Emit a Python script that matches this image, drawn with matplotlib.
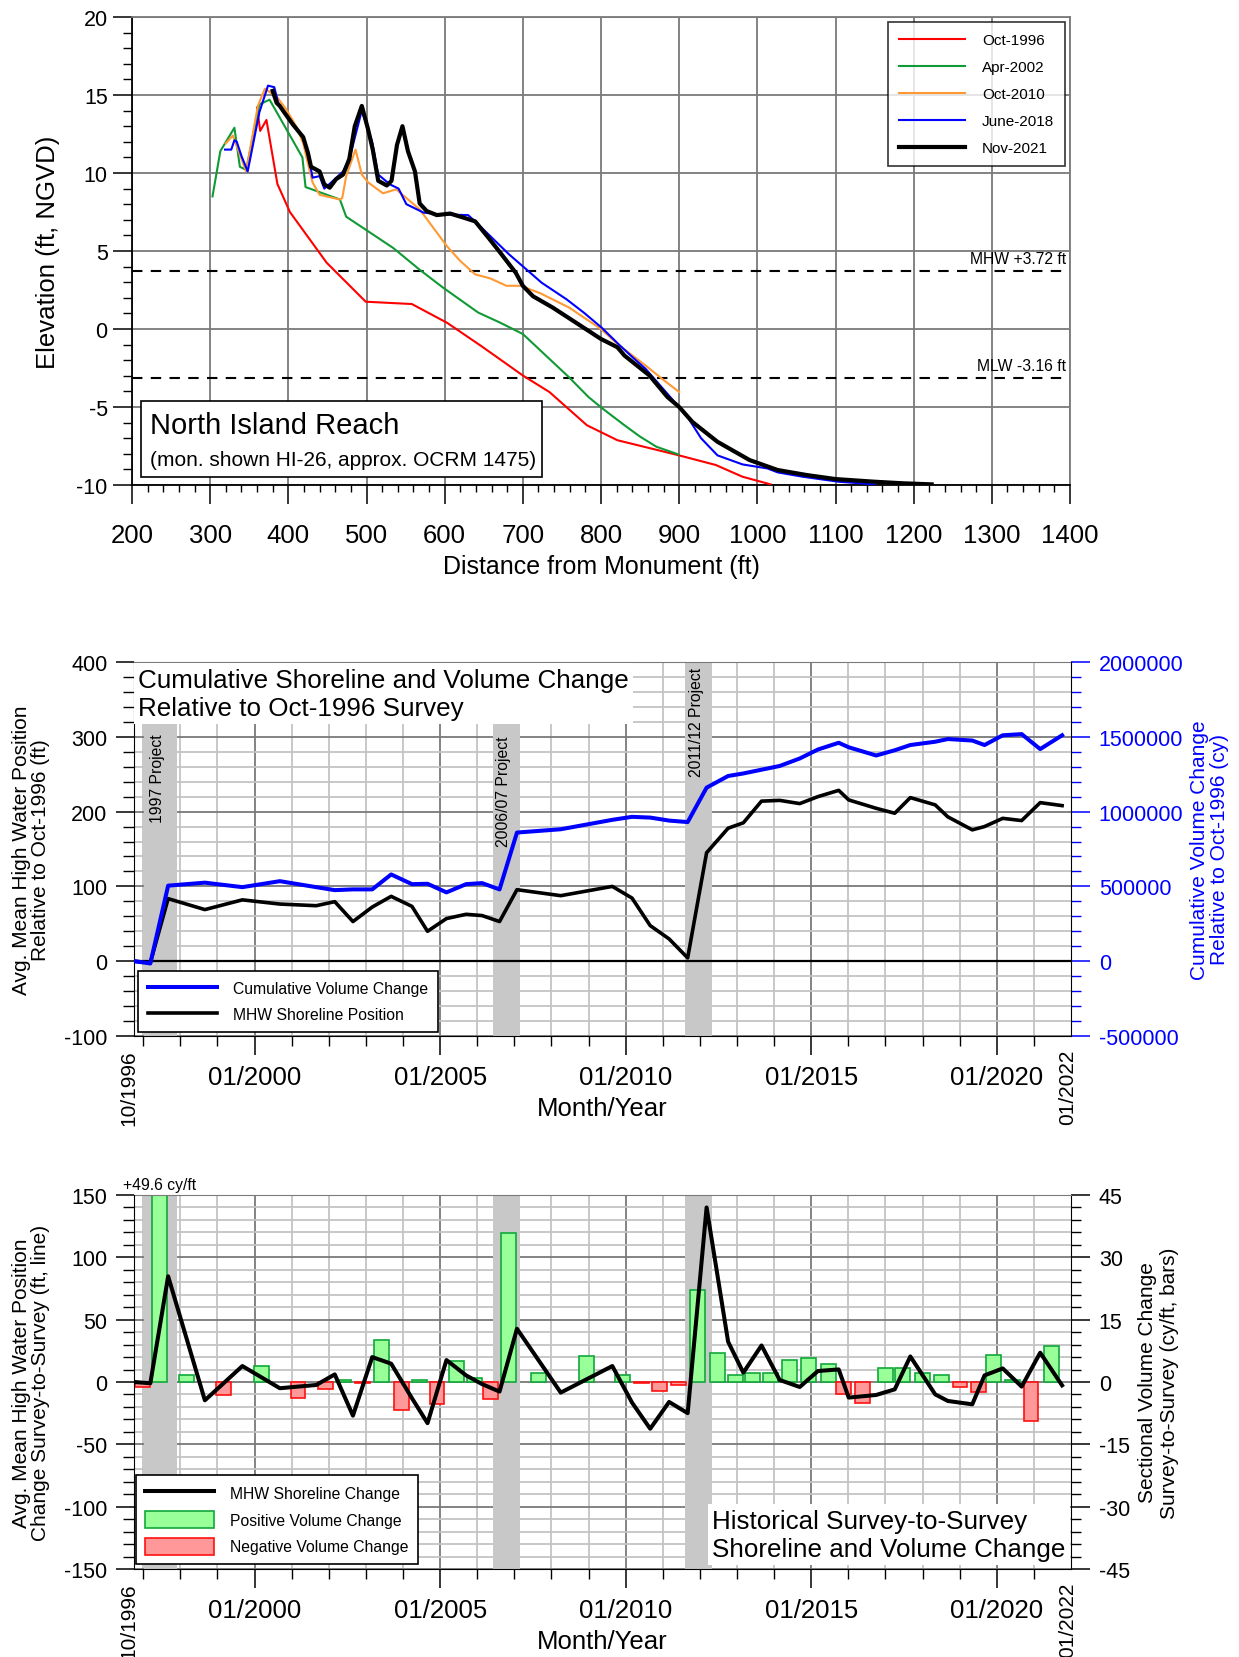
import matplotlib
matplotlib.use('Agg')
import matplotlib.pyplot as plt
from matplotlib.ticker import MultipleLocator, FixedLocator
from matplotlib.lines import Line2D
from matplotlib.patches import Patch, Rectangle
import numpy as np

plt.rcParams['font.family'] = ['Liberation Sans', 'DejaVu Sans']
plt.rcParams['axes.unicode_minus'] = False

# ---------------- Profile data (top panel) ----------------
oct1996_x = [360, 364, 372, 386, 402, 449, 499, 558, 603, 647, 671, 700, 734, 782, 821, 899, 947, 981, 1017]
oct1996_y = [14.2, 12.7, 13.4, 9.3, 7.5, 4.25, 1.75, 1.6, 0.4, -1.1, -1.95, -2.98, -4.04, -6.17, -7.13, -8.09, -8.72, -9.47, -9.96]

apr2002_x = [303, 313, 331, 338, 346, 363, 376, 418, 422, 466, 474, 534, 568, 598, 643, 670, 700, 759, 784, 802, 830, 850, 871, 899]
apr2002_y = [8.5, 11.4, 12.9, 10.4, 10.2, 14.4, 14.7, 11.0, 9.1, 8.3, 7.2, 5.2, 3.8, 2.65, 1.05, 0.43, -0.32, -3.09, -4.36, -5.1, -6.17, -6.9, -7.55, -8.04]

oct2010_x = [320, 329, 346, 361, 370, 385, 397, 410, 419, 427, 431, 440, 466, 469, 474, 486, 494, 502, 521, 538, 568, 603, 620, 639, 658, 679, 697, 722, 759, 800, 821, 857, 878, 900]
oct2010_y = [11.9, 12.4, 10.1, 14.3, 15.4, 14.9, 14.1, 13.0, 11.9, 10.2, 9.4, 8.6, 8.3, 8.4, 9.8, 11.5, 9.9, 9.4, 8.7, 8.95, 7.67, 5.3, 4.36, 3.5, 3.25, 2.77, 2.77, 2.3, 1.38, 0.0, -0.96, -2.34, -3.19, -4.04]

jun2018_x = [319, 327, 331, 334, 340, 348, 363, 374, 382, 387, 395, 406, 419, 425, 431, 440, 446, 455, 470, 478, 494, 507, 515, 530, 541, 551, 573, 594, 630, 641, 682, 705, 724, 756, 778, 801, 824, 841, 857, 898, 912, 928, 949, 981, 1013, 1026, 1058, 1104, 1150]
jun2018_y = [11.5, 11.5, 12.1, 12.0, 11.1, 10.1, 13.9, 15.6, 15.5, 14.5, 13.9, 13.1, 12.3, 11.3, 9.7, 9.8, 9.0, 9.4, 10.1, 10.9, 14.0, 12.05, 9.9, 9.27, 9.0, 8.0, 7.46, 7.35, 7.3, 6.8, 4.8, 3.8, 2.97, 1.9, 1.05, 0.08, -1.05, -1.84, -2.55, -4.9, -5.74, -7.0, -8.1, -8.68, -8.94, -9.19, -9.47, -9.79, -9.96]

nov2021_x = [380, 385, 389, 395, 406, 419, 425, 429, 440, 446, 453, 461, 470, 478, 485, 494, 502, 508, 515, 526, 532, 539, 546, 553, 562, 568, 577, 590, 607, 624, 639, 656, 671, 691, 700, 713, 738, 766, 800, 821, 830, 862, 885, 900, 917, 949, 990, 1026, 1063, 1100, 1150, 1186, 1223]
nov2021_y = [15.26, 14.5, 14.3, 13.87, 13.1, 12.3, 11.3, 10.4, 10.1, 9.27, 9.06, 9.6, 9.9, 10.9, 13.0, 14.3, 12.8, 11.5, 9.5, 9.2, 9.5, 11.8, 13.0, 11.4, 10.1, 8.05, 7.56, 7.3, 7.4, 7.14, 6.9, 5.85, 4.9, 3.6, 2.77, 2.1, 1.38, 0.47, -0.64, -1.17, -1.7, -2.98, -4.36, -5.0, -5.96, -7.23, -8.4, -9.04, -9.36, -9.62, -9.79, -9.89, -9.96]

profile_labels = ['Oct-1996', 'Apr-2002', 'Oct-2010', 'June-2018', 'Nov-2021']
mhw_level = 3.72
mlw_level = -3.16

# ---------------- Survey time series ----------------
survey_years = [1996.75, 1997.19, 1997.67, 1998.66, 1999.67, 2000.68, 2001.66, 2002.16, 2002.65, 2003.17,
                2003.68, 2004.24, 2004.66, 2005.17, 2005.70, 2006.13, 2006.60, 2007.07, 2008.25, 2009.64,
                2010.17, 2010.66, 2011.17, 2011.67, 2012.18, 2012.76, 2013.17, 2013.66, 2014.15, 2014.69,
                2015.18, 2015.74, 2016.01, 2016.75, 2017.25, 2017.67, 2018.34, 2018.68, 2019.34, 2019.67,
                2020.16, 2020.67, 2021.17, 2021.76]

mhw_position = [0, -2, 83.6, 69, 82, 76.4, 74.2, 79.6, 53, 72.4,
                86.7, 73.3, 40, 57, 62.7, 61, 53, 95.6, 87.6, 100,
                84.4, 47.6, 29.8, 4.4, 145, 177.8, 185, 214, 215, 210.7,
                220, 228.4, 215.6, 204.4, 197.8, 218.7, 209, 193, 175.6, 180,
                191, 188, 212, 208]

cum_volume = [0, -15000, 505000, 525000, 495000, 535000, 495000, 475000, 480000, 480000,
              580000, 515000, 517500, 460000, 515000, 522000, 480000, 860000, 882000, 945000,
              965000, 960000, 940000, 930000, 1160000, 1238000, 1255000, 1280000, 1305000, 1355000,
              1415000, 1460000, 1430000, 1375000, 1410000, 1445000, 1467000, 1485000, 1475000, 1445000,
              1510000, 1518000, 1418000, 1510000]

mhw_change = [0, -1, 84.8, -14.7, 12.8, -5, -2.4, 6.1, -27, 20,
              14.7, -13, -33, 17.6, 5.3, -1.7, -7.7, 42.7, -8.5, 12.8,
              -16.5, -37.5, -16, -25, 140, 32.3, 7.5, 29.3, 1.6, -4,
              8.8, 10.1, -12.5, -10.4, -5.9, 20.5, -9.9, -15.2, -17.9, 5.3,
              10.9, -3.7, 23.5, -2.7]

# sectional volume change between consecutive surveys (cy/ft)
vol_change = [-1.2, 49.6, 1.6, -3.1, 3.8, -3.9, -1.8, 0.6, -0.3, 10.1,
              -6.8, 0.4, -5.2, 5.0, 0.9, -4.2, 35.9, 2.2, 6.2, 1.7,
              -0.3, -2.2, -0.7, 22.2, 7.0, 1.7, 2.2, 2.1, 5.2, 5.8,
              4.4, -3.0, -5.1, 3.3, 3.3, 2.2, 1.6, -1.3, -2.3, 6.4,
              0.6, -9.4, 8.6]

project_names = ['1997 Project', '2006/07 Project', '2011/12 Project']
project_start = [1997.02, 2006.42, 2011.60]
project_end = [1997.90, 2007.14, 2012.32]

# ---------------- Figure ----------------
W, H = 1239, 1658
fig = plt.figure(figsize=(W / 100, H / 100), dpi=100)


def axpos(l, t, r, b):
    return [l / W, 1 - b / H, (r - l) / W, (b - t) / H]


GRID_DARK = '#7a7a7a'
GRID_LIGHT = '#c4c4c4'
BAND = '#c8c8c8'
TICK_FS = 18.5

# ============ Top panel ============
ax1 = fig.add_axes(axpos(132, 18, 1070, 486))
ax1.set_xlim(200, 1400)
ax1.set_ylim(-10, 20)
ax1.xaxis.set_major_locator(MultipleLocator(100))
ax1.xaxis.set_minor_locator(MultipleLocator(20))
ax1.yaxis.set_major_locator(MultipleLocator(5))
ax1.yaxis.set_minor_locator(MultipleLocator(1))
ax1.set_axisbelow(True)
ax1.grid(which='major', color=GRID_DARK, lw=1.3)
ax1.tick_params(axis='x', which='major', direction='out', length=13.5, width=1.1, labelsize=TICK_FS, pad=14)
ax1.tick_params(axis='x', which='minor', direction='out', length=5, width=1.0)
ax1.tick_params(axis='y', which='major', direction='out', length=13.5, width=1.1, labelsize=15.5, pad=4)
ax1.tick_params(axis='y', which='minor', direction='out', length=6.5, width=1.0)
for s in ['top', 'right']:
    ax1.spines[s].set_color(GRID_DARK)
    ax1.spines[s].set_linewidth(1.3)
for s in ['left', 'bottom']:
    ax1.spines[s].set_linewidth(1.3)

profiles = [(oct1996_x, oct1996_y, '#ff0000', 1.5),
            (apr2002_x, apr2002_y, '#109a35', 1.5),
            (oct2010_x, oct2010_y, '#ff9933', 1.5),
            (jun2018_x, jun2018_y, '#0000ff', 1.5),
            (nov2021_x, nov2021_y, '#000000', 3.0)]
for (px, py, c, lw), lab in zip(profiles, profile_labels):
    ax1.plot(px, py, color=c, lw=lw, label=lab, zorder=3)

ax1.axhline(mhw_level, color='black', lw=1.5, ls=(0, (5, 4)), zorder=2)
ax1.axhline(mlw_level, color='black', lw=1.5, ls=(0, (5, 4)), zorder=2)
ax1.text(1395, mhw_level + 0.35, f'MHW +{mhw_level:.2f} ft', ha='right', va='bottom', fontsize=11.3)
ax1.text(1395, mlw_level + 0.35, f'MLW {mlw_level:.2f} ft', ha='right', va='bottom', fontsize=11.3)

ax1.set_ylabel('Elevation (ft, NGVD)', fontsize=18.5)
ax1.yaxis.set_label_coords(-0.077, 0.5)
ax1.set_xlabel('Distance from Monument (ft)', fontsize=18)
ax1.xaxis.set_label_coords(0.5, -0.147)

leg1 = ax1.legend(loc='upper right', bbox_to_anchor=(0.9947, 0.9893), borderaxespad=0,
                  fontsize=11, frameon=True, fancybox=False, edgecolor='black',
                  handlelength=4.3, handletextpad=1.1, labelspacing=0.85,
                  borderpad=0.72)
leg1.get_frame().set_linewidth(1.2)
leg1.set_zorder(10)

# annotation box
box = Rectangle((0.0096, 0.017), 0.4275, 0.162, transform=ax1.transAxes,
                facecolor='white', edgecolor='black', lw=1.2, zorder=6)
ax1.add_patch(box)
ax1.text(0.019, 0.128, 'North Island Reach', transform=ax1.transAxes, fontsize=21,
         ha='left', va='center', zorder=7)
ax1.text(0.019, 0.054, '(mon. shown HI-26, approx. OCRM 1475)', transform=ax1.transAxes,
         fontsize=15, ha='left', va='center', zorder=7)


def style_time_axis(ax):
    ax.set_xlim(1996.75, 2022.0)
    ax.xaxis.set_major_locator(FixedLocator([2000, 2005, 2010, 2015, 2020]))
    ax.xaxis.set_minor_locator(FixedLocator(list(range(1997, 2022))))
    ax.set_xticklabels(['01/2000', '01/2005', '01/2010', '01/2015', '01/2020'])
    ax.tick_params(axis='x', which='major', direction='out', length=14, width=1.1, labelsize=TICK_FS, pad=7)
    ax.tick_params(axis='x', which='minor', direction='out', length=7, width=1.0)
    trans = ax.get_xaxis_transform()
    ax.text(1996.62, -0.035, '10/1996', transform=trans, rotation=90, ha='center', va='top', fontsize=15)
    ax.text(2021.9, -0.035, '01/2022', transform=trans, rotation=90, ha='center', va='top', fontsize=15)
    ax.set_xlabel('Month/Year', fontsize=18.5)
    ax.xaxis.set_label_coords(0.5, -0.16)


# ============ Middle panel ============
ax2 = fig.add_axes(axpos(134, 663, 1071, 1037))
ax2.set_ylim(-100, 400)
ax2.yaxis.set_major_locator(MultipleLocator(100))
ax2.yaxis.set_minor_locator(MultipleLocator(20))
style_time_axis(ax2)
ax2.set_axisbelow(True)
ax2.grid(which='minor', color=GRID_LIGHT, lw=1.3)
ax2.grid(which='major', color=GRID_DARK, lw=1.3)
ax2.tick_params(axis='y', which='major', direction='out', length=13, width=1.1, labelsize=15.5, pad=6)
ax2.tick_params(axis='y', which='minor', direction='out', length=8, width=1.0)
ax2.spines['top'].set_color(GRID_DARK)
ax2.spines['right'].set_visible(False)
for s0, e0 in zip(project_start, project_end):
    ax2.axvspan(s0, e0, color=BAND, zorder=1, lw=0)
ax2.axhline(0, color='black', lw=1.6, zorder=1.5)
ax2.plot(survey_years, mhw_position, color='black', lw=2.6, zorder=3)
ax2.set_ylabel('Avg. Mean High Water Position\nRelative to Oct-1996 (ft)', fontsize=15, linespacing=0.95)
ax2.yaxis.set_label_coords(-0.09, 0.5)

label_x = [1997.37, 2006.71, 2011.92]
label_top = [304, 302, 393]
for nm, lx, lt in zip(project_names, label_x, label_top):
    ax2.text(lx, lt, nm, rotation=90, ha='center', va='top', fontsize=11.3, zorder=4)

ax2b = ax2.twinx()
ax2b.set_ylim(-500000, 2000000)
vt = list(range(-500000, 2000001, 500000))
ax2b.yaxis.set_major_locator(FixedLocator(vt))
ax2b.set_yticklabels([str(v) for v in vt])
ax2b.yaxis.set_minor_locator(MultipleLocator(100000))
ax2b.tick_params(axis='y', which='major', direction='out', length=14, width=1.1, labelsize=15.5,
                 colors='#0000ff', pad=6)
ax2b.tick_params(axis='y', which='minor', direction='out', length=7, width=1.0, colors='#0000ff')
ax2b.spines['right'].set_color('black')
ax2b.spines['top'].set_visible(False)
ax2b.spines['left'].set_visible(False)
ax2b.spines['bottom'].set_visible(False)
ax2b.plot(survey_years, cum_volume, color='#0000ff', lw=2.9, zorder=3)
ax2b.set_ylabel('Cumulative Volume Change\nRelative to Oct-1996 (cy)', fontsize=15, color='#0000ff',
                linespacing=1.1)
ax2b.yaxis.set_label_coords(1.127, 0.5)

ax2b.text(0.004, 0.985, 'Cumulative Shoreline and Volume Change\nRelative to Oct-1996 Survey',
          transform=ax2b.transAxes, ha='left', va='top', fontsize=18.7, linespacing=1.22, zorder=8,
          bbox=dict(facecolor='white', edgecolor='none', pad=3))

leg2 = ax2b.legend(handles=[Line2D([], [], color='#0000ff', lw=2.9),
                            Line2D([], [], color='black', lw=2.6)],
                   labels=['Cumulative Volume Change', 'MHW Shoreline Position'],
                   loc='lower left', bbox_to_anchor=(0.0043, 0.0107), borderaxespad=0,
                   fontsize=11.3, fancybox=False, edgecolor='black', framealpha=1,
                   handlelength=4.4, handletextpad=1.0, labelspacing=0.7, borderpad=0.65)
leg2.get_frame().set_linewidth(1.2)
leg2.set_zorder(10)

# ============ Bottom panel ============
ax3 = fig.add_axes(axpos(134, 1196, 1071, 1570))   # bars (right scale)
ax4 = ax3.twinx()                                   # line (left scale)

ax3.set_ylim(-45, 45)
ax3.yaxis.set_major_locator(MultipleLocator(15))
ax3.yaxis.set_minor_locator(MultipleLocator(3))
style_time_axis(ax3)
ax3.set_axisbelow(True)
ax3.grid(which='minor', color=GRID_LIGHT, lw=1.3)
ax3.grid(which='major', color=GRID_DARK, lw=1.3)
ax3.yaxis.tick_right()
ax3.yaxis.set_label_position('right')
ax3.tick_params(axis='y', which='major', direction='out', length=14, width=1.1, labelsize=15.5, pad=6)
ax3.tick_params(axis='y', which='minor', direction='out', length=7, width=1.0)
ax3.spines['top'].set_color(GRID_DARK)
ax3.spines['left'].set_visible(False)
ax3.spines['right'].set_color('black')
for s0, e0 in zip(project_start, project_end):
    ax3.axvspan(s0, e0, color=BAND, zorder=1, lw=0)

mids = [(a + b) / 2 for a, b in zip(survey_years[:-1], survey_years[1:])]
face = ['#99ff99' if v >= 0 else '#ff9999' for v in vol_change]
edge = ['#10a83a' if v >= 0 else '#ff1010' for v in vol_change]
ax3.bar(mids, vol_change, width=0.4, color=face, edgecolor=edge, linewidth=1.2, zorder=2)
ax3.set_ylabel('Sectional Volume Change\nSurvey-to-Survey (cy/ft, bars)', fontsize=15, linespacing=1.15)
ax3.yaxis.set_label_coords(1.072, 0.5)
ax3.text(mids[1], 45.8, f'+{vol_change[1]:.1f} cy/ft', ha='center', va='bottom', fontsize=11.3)

ax4.set_ylim(-150, 150)
ax4.yaxis.tick_left()
ax4.yaxis.set_label_position('left')
ax4.yaxis.set_major_locator(MultipleLocator(50))
ax4.yaxis.set_minor_locator(MultipleLocator(10))
ax4.tick_params(axis='y', which='major', direction='out', length=13, width=1.1, labelsize=15.5, pad=6)
ax4.tick_params(axis='y', which='minor', direction='out', length=8, width=1.0)
ax4.spines['top'].set_visible(False)
ax4.spines['right'].set_visible(False)
ax4.spines['bottom'].set_visible(False)
ax4.spines['left'].set_visible(True)
ax4.spines['left'].set_color('black')
ax4.plot(survey_years, mhw_change, color='black', lw=2.9, zorder=3)
ax4.set_ylabel('Avg. Mean High Water Position\nChange Survey-to-Survey (ft, line)', fontsize=15,
               linespacing=0.95)
ax4.yaxis.set_label_coords(-0.09, 0.5)

ax4.text(0.994, 0.022, 'Historical Survey-to-Survey\nShoreline and Volume Change',
         transform=ax4.transAxes, ha='right', va='bottom', multialignment='left',
         fontsize=18.7, linespacing=1.22, zorder=8,
         bbox=dict(facecolor='white', edgecolor='none', pad=3))

leg3 = ax4.legend(handles=[Line2D([], [], color='black', lw=2.9),
                           Patch(facecolor='#99ff99', edgecolor='#10a83a', lw=1.2),
                           Patch(facecolor='#ff9999', edgecolor='#ff1010', lw=1.2)],
                  labels=['MHW Shoreline Change', 'Positive Volume Change', 'Negative Volume Change'],
                  loc='lower left', bbox_to_anchor=(0.002, 0.013), borderaxespad=0,
                  fontsize=11.3, fancybox=False, edgecolor='black', framealpha=1,
                  handlelength=4.4, handleheight=1.3, handletextpad=1.0, labelspacing=0.6, borderpad=0.6)
leg3.get_frame().set_linewidth(1.2)
leg3.set_zorder(10)

fig.savefig('out.png', dpi=100)
